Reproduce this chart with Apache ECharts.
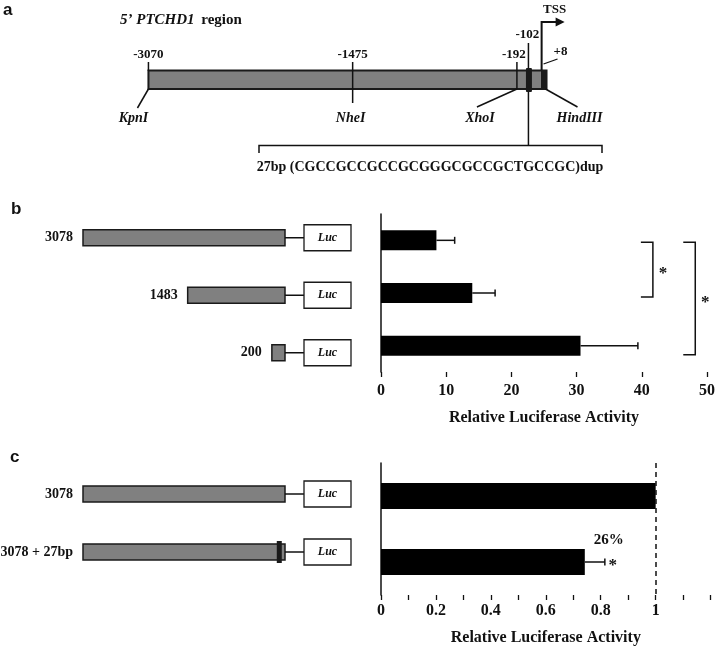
<!DOCTYPE html>
<html><head><meta charset="utf-8">
<script src="https://cdn.jsdelivr.net/npm/echarts/dist/echarts.min.js"></script>
<style>html,body{margin:0;padding:0;background:#fff}#c{width:718px;height:649px}</style>
</head><body><div id="c"></div>
<script>
// ---------- Panel a: 5' PTCHD1 promoter map (bp relative to TSS) ----------
const mapStart = -3070;
const mapEnd = 8;
const tssPosition = 1;
const siteLabels = ['-3070', '-1475', '-192', '-102', '+8'];
const sitePositions = [-3070, -1475, -192, -102, 8];
const enzymeNames = ['KpnI', 'NheI', 'XhoI', 'HindIII'];
const enzymePositions = [-3070, -1475, -192, 8];
const dupPosition = -102;
const dupText = '27bp (CGCCGCCGCCGCGGGCGCCGCTGCCGC)dup';

// ---------- Panel b ----------
const constructsB = ['3078', '1483', '200'];
const constructLengthsB = [3078, 1483, 200];
const activityB = [8.5, 14.0, 30.6];
const errorB = [2.8, 3.5, 8.8];
const sigPairsB = [[0, 1], [0, 2]];
const sigMarksB = ['*', '*'];

// ---------- Panel c ----------
const constructsC = ['3078', '3078 + 27bp'];
const constructLengthsC = [3078, 3078];
const insertC = [0, 27];
const activityC = [1.0, 0.742];
const errorC = [0, 0.073];
const sigMarksC = ['', '*'];

const axisTitle = 'Relative Luciferase Activity';

const SERIF = "'Liberation Serif','Times New Roman',serif";
const SANS = "'Liberation Sans',Arial,sans-serif";
const INK = '#111';
const GRAY = '#808080';

function lineEl(x1, y1, x2, y2, w) {
  return { type: 'line', shape: { x1, y1, x2, y2 }, style: { stroke: INK, lineWidth: w || 1.5 } };
}
function textEl(t, x, y, font, align) {
  return { type: 'text', x, y, style: { text: t, fill: INK, font: font, align: align || 'center', verticalAlign: 'middle' } };
}

function renderMap(params, api) {
  const X = bp => api.coord([bp, 0])[0];
  const ch = [];
  const numFont = 'bold 13px ' + SERIF;
  const enzFont = 'italic bold 14px ' + SERIF;
  const xs = X(mapStart), xe = X(mapEnd) + 4;
  ch.push({ type: 'rect', shape: { x: xs, y: 70.5, width: xe - xs, height: 18.5 },
            style: { fill: GRAY, stroke: '#1a1a1a', lineWidth: 2 } });
  sitePositions.forEach((p, i) => {
    const x = X(p);
    const lab = siteLabels[i];
    if (i === 0) { ch.push(lineEl(x, 62, x, 71)); ch.push(textEl(lab, x, 55, numFont)); }
    else if (i === 1) { ch.push(lineEl(x, 62, x, 103)); ch.push(textEl(lab, x, 55, numFont)); }
    else if (i === 2) { ch.push(lineEl(x, 62, x, 89)); ch.push(textEl(lab - 0 === lab ? lab : lab, x - 3, 55, numFont)); }
    else if (i === 3) {
      ch.push(lineEl(x, 43, x, 145.5));
      ch.push({ type: 'rect', shape: { x: x - 2.5, y: 68, width: 6, height: 24, r: 1 }, style: { fill: '#1a1a1a' } });
      ch.push(textEl(lab, x - 1, 35, numFont));
    } else {
      ch.push({ type: 'rect', shape: { x: x - 1.5, y: 70.5, width: 6, height: 18.5 }, style: { fill: '#1a1a1a' } });
      ch.push(lineEl(x + 1, 64, x + 15, 59, 1.3));
      ch.push(textEl(lab, x + 18, 52, numFont));
    }
  });
  enzymePositions.forEach((p, i) => {
    const x = X(p);
    const n = enzymeNames[i];
    if (i === 0) { ch.push(lineEl(x, 89, x - 11, 108)); ch.push(textEl(n, x - 15, 118, enzFont)); }
    else if (i === 1) { ch.push(textEl(n, x - 2, 118, enzFont)); }
    else if (i === 2) { ch.push(lineEl(x, 89, x - 40, 107)); ch.push(textEl(n, x - 37, 118, enzFont)); }
    else { ch.push(lineEl(x + 3, 89, x + 35, 107)); ch.push(textEl(n, x + 37, 118, enzFont)); }
  });
  // TSS arrow
  const xt = X(tssPosition);
  ch.push({ type: 'polyline', shape: { points: [[xt, 70], [xt, 22], [xt + 15, 22]] }, style: { stroke: INK, lineWidth: 2, fill: null } });
  ch.push({ type: 'polygon', shape: { points: [[xt + 14, 17.5], [xt + 23, 22], [xt + 14, 26.5]] }, style: { fill: INK } });
  ch.push(textEl('TSS', xt + 13, 10, numFont));
  // duplication bracket
  ch.push({ type: 'polyline', shape: { points: [[259, 153], [259, 145.5], [602, 145.5], [602, 153]] }, style: { stroke: INK, lineWidth: 1.5, fill: null } });
  ch.push(textEl(dupText, 430, 167, 'bold 14px ' + SERIF));
  return { type: 'group', children: ch };
}

function renderConstruct(names, inserts) {
  return function (params, api) {
    const len = api.value(0), idx = params.dataIndex;
    const pEnd = api.coord([0, idx]);
    const pStart = api.coord([len, idx]);
    const cy = pEnd[1];
    const ch = [];
    ch.push({ type: 'rect', shape: { x: pStart[0], y: cy - 8, width: pEnd[0] - pStart[0], height: 16 },
              style: { fill: GRAY, stroke: '#1a1a1a', lineWidth: 1.5 } });
    if (inserts && inserts[idx] > 0) {
      const pd = api.coord([mapEnd - dupPosition, idx]);
      ch.push({ type: 'rect', shape: { x: pd[0] - 1, y: cy - 11, width: 5, height: 22 }, style: { fill: '#1a1a1a' } });
    }
    ch.push(lineEl(pEnd[0], cy, pEnd[0] + 19, cy, 1.5));
    ch.push({ type: 'rect', shape: { x: pEnd[0] + 19, y: cy - 13, width: 47, height: 26 },
              style: { fill: '#fff', stroke: '#1a1a1a', lineWidth: 1.3 } });
    ch.push(textEl('Luc', pEnd[0] + 42.5, cy, 'italic bold 12px ' + SERIF));
    ch.push(textEl(names[idx], pStart[0] - 10, cy, 'bold 14px ' + SERIF, 'right'));
    return { type: 'group', children: ch };
  };
}

function renderError(errs, marks, showPct) {
  return function (params, api) {
    const i = params.dataIndex;
    const v = api.value(0), e = errs[i];
    const ch = [];
    const a = api.coord([v, i]), b = api.coord([v + e, i]);
    if (e > 0) {
      ch.push(lineEl(a[0], a[1], b[0], b[1], 1.5));
      ch.push(lineEl(b[0], b[1] - 3.5, b[0], b[1] + 3.5, 1.5));
    }
    if (marks && marks[i]) {
      ch.push(textEl(marks[i], b[0] + 8, b[1] + 4, 'bold 17px ' + SERIF));
      if (showPct) {
        const pct = Math.round((activityC[0] - v) / activityC[0] * 100) + '%';
        ch.push(textEl(pct, b[0] + 4, b[1] - 22, 'bold 15px ' + SERIF));
      }
    }
    return { type: 'group', children: ch };
  };
}

function renderSig(params, api) {
  const k = params.dataIndex;
  const pair = sigPairsB[k];
  const xv = [41.7, 48.2][k];
  const top = api.coord([xv, pair[0]]);
  const bot = api.coord([xv, pair[1]]);
  const y1 = top[1] + 2, y2 = bot[1] + (pair[1] === 2 ? 9 : 4);
  const x = top[0];
  return { type: 'group', children: [
    { type: 'polyline', shape: { points: [[x - 12, y1], [x, y1], [x, y2], [x - 12, y2]] }, style: { stroke: INK, lineWidth: 1.5, fill: null } },
    textEl(sigMarksB[k], x + 10, (y1 + y2) / 2 + 4, 'bold 17px ' + SERIF)
  ] };
}

const labelStyle = { fontFamily: SERIF, fontWeight: 'bold', fontSize: 16, color: INK };

const option = {
  animation: false,
  backgroundColor: '#fff',
  graphic: [
    { type: 'text', x: 3, y: 10, style: { text: 'a', font: 'bold 17px ' + SANS, fill: INK, verticalAlign: 'middle' } },
    { type: 'text', x: 11, y: 209, style: { text: 'b', font: 'bold 17px ' + SANS, fill: INK, verticalAlign: 'middle' } },
    { type: 'text', x: 10, y: 457, style: { text: 'c', font: 'bold 17px ' + SANS, fill: INK, verticalAlign: 'middle' } },
    { type: 'text', x: 120, y: 20, style: {
        text: '{i|5\u2019 PTCHD1}  {r|region}', verticalAlign: 'middle',
        rich: { i: { font: 'italic bold 15px ' + SERIF, fill: INK }, r: { font: 'bold 15px ' + SERIF, fill: INK } } } }
  ],
  grid: [
    { left: 144.6, right: 163.7, top: 60, height: 40 },
    { left: 381, right: 11, top: 214, height: 158 },
    { left: 83, right: 433, top: 209, height: 172.5 },
    { left: 381, right: 7.4, top: 463, height: 132 },
    { left: 83, right: 433, top: 465, height: 116 }
  ],
  xAxis: [
    { gridIndex: 0, type: 'value', min: -3100, max: 100, show: false },
    { gridIndex: 1, type: 'value', min: 0, max: 50, interval: 10,
      axisLine: { lineStyle: { color: INK, width: 1.5 } },
      axisTick: { show: true, length: 5, lineStyle: { color: INK, width: 1.3 } },
      axisLabel: Object.assign({ margin: 11 }, labelStyle),
      splitLine: { show: false },
      name: axisTitle, nameLocation: 'middle', nameGap: 38, nameTextStyle: labelStyle },
    { gridIndex: 2, type: 'value', min: 0, max: 3078, inverse: true, show: false },
    { gridIndex: 3, type: 'value', min: 0, max: 1.2, interval: 0.1,
      axisLine: { lineStyle: { color: INK, width: 1.5 } },
      axisTick: { show: true, length: 5, lineStyle: { color: INK, width: 1.3 } },
      axisLabel: Object.assign({ margin: 8, hideOverlap: false, showMaxLabel: true, showMinLabel: true,
        formatter: v => { const k = Math.round(v * 10); if (k % 2 !== 0 || k > 10) return ''; return k === 0 ? '0' : (k === 10 ? '1' : (k / 10).toFixed(1)); } }, labelStyle),
      splitLine: { show: false },
      name: axisTitle, nameLocation: 'middle', nameGap: 35, nameTextStyle: labelStyle },
    { gridIndex: 4, type: 'value', min: 0, max: 3078, inverse: true, show: false }
  ],
  yAxis: [
    { gridIndex: 0, type: 'value', min: 0, max: 1, show: false },
    { gridIndex: 1, type: 'category', data: constructsB, inverse: true,
      axisLine: { lineStyle: { color: INK, width: 1.5 } }, axisTick: { show: false }, axisLabel: { show: false } },
    { gridIndex: 2, type: 'category', data: constructsB, inverse: true, show: false },
    { gridIndex: 3, type: 'category', data: constructsC, inverse: true,
      axisLine: { lineStyle: { color: INK, width: 1.5 } }, axisTick: { show: false }, axisLabel: { show: false } },
    { gridIndex: 4, type: 'category', data: constructsC, inverse: true, show: false }
  ],
  series: [
    { type: 'custom', xAxisIndex: 0, yAxisIndex: 0, data: [[mapStart, 0]], renderItem: renderMap, silent: true },
    { type: 'bar', xAxisIndex: 1, yAxisIndex: 1, data: activityB, barWidth: 20, itemStyle: { color: '#000' }, silent: true },
    { type: 'custom', xAxisIndex: 1, yAxisIndex: 1, data: activityB.map((v, i) => [v, i]), renderItem: renderError(errorB, null, false), z: 3, silent: true },
    { type: 'custom', xAxisIndex: 1, yAxisIndex: 1, data: sigPairsB.map(p => [0, p[0]]), renderItem: renderSig, z: 3, silent: true },
    { type: 'custom', xAxisIndex: 2, yAxisIndex: 2, data: constructLengthsB.map((l, i) => [l, i]), renderItem: renderConstruct(constructsB, null), silent: true },
    { type: 'bar', xAxisIndex: 3, yAxisIndex: 3, data: activityC, barWidth: 26, itemStyle: { color: '#000' }, silent: true,
      markLine: { silent: true, symbol: 'none', label: { show: false },
        lineStyle: { type: [5, 4], color: INK, width: 1.5 }, data: [{ xAxis: 1 }] } },
    { type: 'custom', xAxisIndex: 3, yAxisIndex: 3, data: activityC.map((v, i) => [v, i]), renderItem: renderError(errorC, sigMarksC, true), z: 3, silent: true },
    { type: 'custom', xAxisIndex: 4, yAxisIndex: 4, data: constructLengthsC.map((l, i) => [l, i]), renderItem: renderConstruct(constructsC, insertC), silent: true }
  ]
};

const chart = echarts.init(document.getElementById('c'), null, { renderer: 'canvas' });
chart.setOption(option);
</script></body></html>
